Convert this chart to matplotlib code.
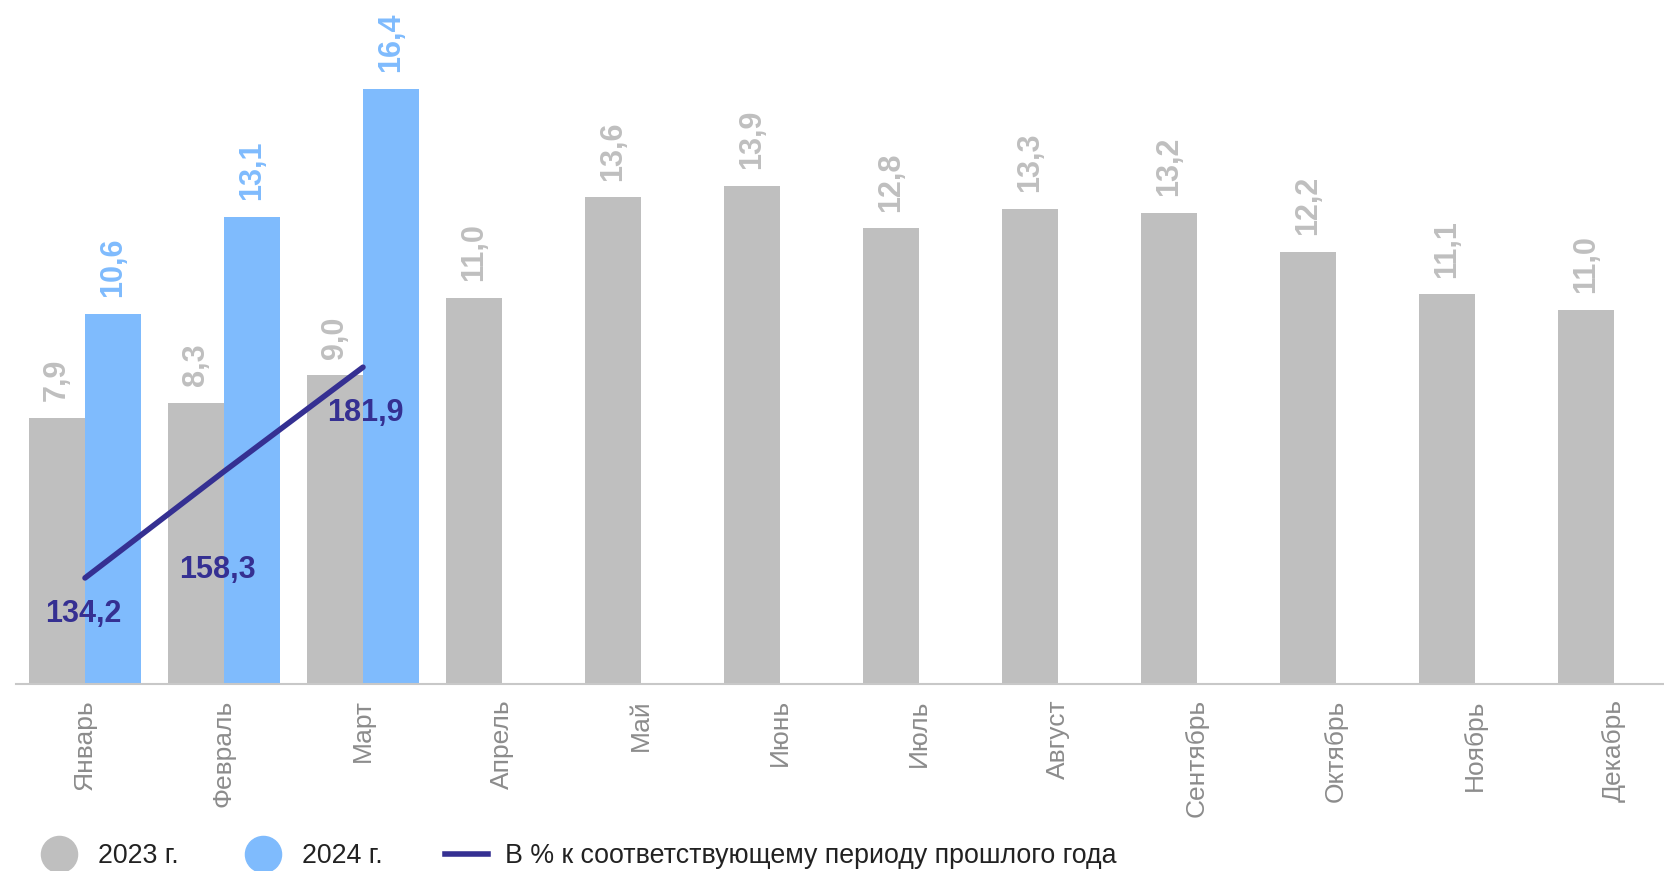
import numpy as np
import matplotlib
matplotlib.use("Agg")
import matplotlib.pyplot as plt
from matplotlib.lines import Line2D

plt.rcParams["font.family"] = ["Liberation Sans", "DejaVu Sans"]

months = ["Январь", "Февраль", "Март", "Апрель", "Май", "Июнь", "Июль",
          "Август", "Сентябрь", "Октябрь", "Ноябрь", "Декабрь"]
# bar heights as drawn in the source; December's bar sits lower than its label
v2023 = [7.9, 8.3, 9.0, 11.0, 13.6, 13.9, 12.8, 13.3, 13.2, 12.2, 11.1, 10.7]
lab2023 = ["7,9", "8,3", "9,0", "11,0", "13,6", "13,9", "12,8", "13,3",
           "13,2", "12,2", "11,1", "11,0"]
v2024 = [10.6, 13.1, 16.4]
pct = [134.2, 158.3, 181.9]

gray = "#BFBFBF"
blue = "#7FBBFD"
navy = "#353092"

fig = plt.figure(figsize=(16.65, 8.71), dpi=100)
ax = fig.add_axes([15.5 / 1665, 1 - 684 / 871, 12 * 139 / 1665, 684 / 871])

x = np.arange(len(months))
w = 0.40
b1 = ax.bar(x - w / 2, v2023, w, color=gray)
b2 = ax.bar(x[:len(v2024)] + w / 2, v2024, w, color=blue)

for rect, t in zip(b1, lab2023):
    ax.annotate(t, (rect.get_x() + rect.get_width() / 2, rect.get_height()),
                xytext=(0, 12), textcoords="offset points", rotation=90,
                ha="center", va="bottom", fontsize=22, fontweight="bold",
                color=gray)
for rect, v in zip(b2, v2024):
    ax.annotate(f"{v:.1f}".replace(".", ","),
                (rect.get_x() + rect.get_width() / 2, rect.get_height()),
                xytext=(0, 12), textcoords="offset points", rotation=90,
                ha="center", va="bottom", fontsize=22, fontweight="bold",
                color=blue)

ax.set_xlim(-0.5, len(months) - 0.5)
ax.set_ylim(1.03, 18.7)
ax.set_xticks(x)
ax.set_xticklabels(months, rotation=90, va="top", ha="center",
                   fontsize=19, color="#8C8C8C")
ax.tick_params(axis="x", length=0, pad=11)
ax.set_yticks([])
for s in ["top", "left", "right"]:
    ax.spines[s].set_visible(False)
ax.spines["bottom"].set_color("#C8C8C8")
ax.spines["bottom"].set_linewidth(1.5)

ax2 = ax.twinx()
ax2.plot(x[:len(pct)], pct, color=navy, lw=4, solid_capstyle="round")
ax2.set_ylim(110.2, 265)
ax2.set_yticks([])
for s in ax2.spines.values():
    s.set_visible(False)
offsets = [(-1.5, -26), (-5, -71), (1.5, -33)]
for xi, v, off in zip(x, pct, offsets):
    ax2.annotate(f"{v:.1f}".replace(".", ","), (xi, v), xytext=off,
                 textcoords="offset points", ha="center", va="center",
                 fontsize=22, fontweight="bold", color=navy)

handles = [
    Line2D([], [], ls="none", marker="o", ms=26, color=gray),
    Line2D([], [], ls="none", marker="o", ms=26, color=blue),
    Line2D([], [], color=navy, lw=4),
]
fig.legend(handles, ["2023 г.", "2024 г.",
                     "В % к соответствующему периоду прошлого года"],
           loc="center left", bbox_to_anchor=(38 / 1665, 1 - 856 / 871),
           ncol=3, frameon=False, fontsize=19.3, handlelength=1.6,
           handletextpad=0.65, columnspacing=2.33, borderpad=0,
           borderaxespad=0, labelcolor="#222222")

fig.savefig("out.png", dpi=100)
